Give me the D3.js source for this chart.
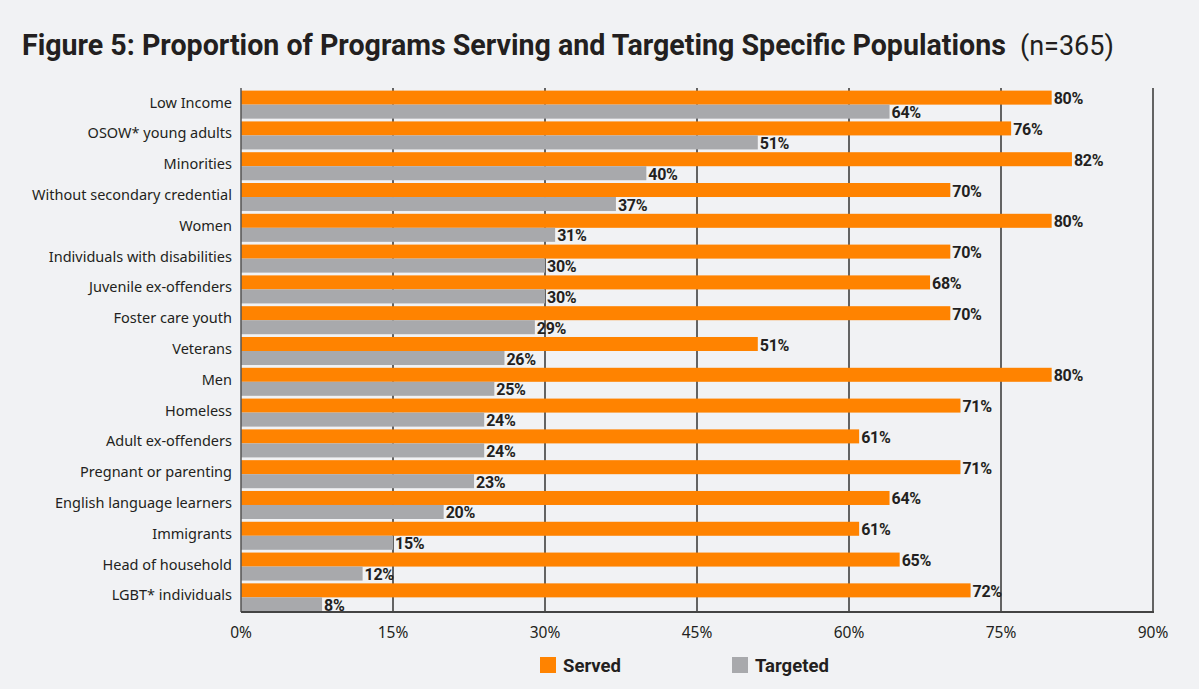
<!DOCTYPE html>
<html>
<head>
<meta charset="utf-8">
<script src="https://cdn.jsdelivr.net/npm/d3@7"></script>
<style>
  html, body { margin: 0; padding: 0; background: #f1f2f4; }
  svg { display: block; }
</style>
</head>
<body>
<svg id="chart"></svg>
<script>
var categories = [
    'Low Income', 'OSOW* young adults', 'Minorities', 'Without secondary credential',
    'Women', 'Individuals with disabilities', 'Juvenile ex-offenders', 'Foster care youth',
    'Veterans', 'Men', 'Homeless', 'Adult ex-offenders', 'Pregnant or parenting',
    'English language learners', 'Immigrants', 'Head of household', 'LGBT* individuals'
];
var served   = [80, 76, 82, 70, 80, 70, 68, 70, 51, 80, 71, 61, 71, 64, 61, 65, 72];
var targeted = [64, 51, 40, 37, 31, 30, 30, 29, 26, 25, 24, 24, 23, 20, 15, 12, 8];
var xTicks = [0, 15, 30, 45, 60, 75, 90];
var seriesNames = ['Served', 'Targeted'];
var seriesColors = ['#ff8300', '#a8a9ac'];

var config = {
    width: 1199,
    height: 689,
    left: 241,
    right: 1153,
    top: 90,
    bottom: 612
};

var svg = d3.select('#chart')
    .attr('width', config.width)
    .attr('height', config.height);

svg.append('rect')
    .attr('width', config.width).attr('height', config.height)
    .attr('fill', '#f1f2f4');

// title
var title = svg.append('text')
    .attr('x', 22).attr('y', 55)
    .attr('fill', '#231f20')
    .style('font-family', 'Roboto, sans-serif')
    .style('font-weight', 'bold')
    .style('font-size', '28.6px');
title.append('tspan').text('Figure 5: Proportion of Programs Serving and Targeting Specific Populations');
title.append('tspan')
    .attr('dx', 14)
    .style('font-weight', 'normal')
    .style('font-size', '27px')
    .text('(n=365)');

var x = d3.scaleLinear().domain([0, 90]).range([config.left, config.right]);
var y = d3.scaleBand().domain(categories).range([config.top, config.bottom])
    .paddingInner(0.09).paddingOuter(0.02);
var sub = d3.scaleBand().domain(seriesNames).range([0, y.bandwidth()]);

// gridlines
svg.append('g')
    .selectAll('line')
    .data(xTicks.slice(1))
    .enter()
    .append('line')
    .attr('x1', function(d) { return x(d); })
    .attr('x2', function(d) { return x(d); })
    .attr('y1', config.top - 2)
    .attr('y2', config.bottom)
    .attr('stroke', '#333')
    .attr('stroke-width', 1.5);

var rows = categories.map(function(c, i) {
    return { cat: c, values: [served[i], targeted[i]] };
});

var groups = svg.append('g')
    .selectAll('g')
    .data(rows)
    .enter()
    .append('g')
    .attr('transform', function(d) { return 'translate(0,' + y(d.cat) + ')'; });

groups.selectAll('rect')
    .data(function(d) { return d.values.map(function(v, j) { return { v: v, s: seriesNames[j], c: seriesColors[j] }; }); })
    .enter()
    .append('rect')
    .attr('x', x(0))
    .attr('y', function(d) { return sub(d.s); })
    .attr('width', function(d) { return x(d.v) - x(0); })
    .attr('height', sub.bandwidth())
    .attr('fill', function(d) { return d.c; });

groups.selectAll('text.val')
    .data(function(d) { return d.values.map(function(v, j) { return { v: v, s: seriesNames[j] }; }); })
    .enter()
    .append('text')
    .attr('class', 'val')
    .attr('x', function(d) { return x(d.v) + 2; })
    .attr('y', function(d) { return sub(d.s) + sub.bandwidth() / 2 + 6.5; })
    .attr('fill', '#231f20')
    .style('font-family', 'Roboto, sans-serif')
    .style('font-weight', 'bold')
    .style('font-size', '16px')
    .style('letter-spacing', '-0.3px')
    .text(function(d) { return d.v + '%'; });

// category labels
svg.append('g')
    .selectAll('text')
    .data(categories)
    .enter()
    .append('text')
    .attr('x', config.left - 9)
    .attr('y', function(d) { return y(d) + y.bandwidth() / 2 + 3; })
    .attr('text-anchor', 'end')
    .attr('fill', '#231f20')
    .style('font-family', '"Noto Sans", sans-serif')
    .style('font-size', '14.5px')
    .text(function(d) { return d; });

// axes lines
svg.append('line')
    .attr('x1', config.left).attr('x2', config.left)
    .attr('y1', config.top - 2).attr('y2', config.bottom)
    .attr('stroke', '#555').attr('stroke-width', 1.5);
svg.append('line')
    .attr('x1', config.left).attr('x2', config.right + 1)
    .attr('y1', config.bottom).attr('y2', config.bottom)
    .attr('stroke', '#444').attr('stroke-width', 2);

// x tick labels
svg.append('g')
    .selectAll('text')
    .data(xTicks)
    .enter()
    .append('text')
    .attr('x', function(d) { return x(d); })
    .attr('y', config.bottom + 26)
    .attr('text-anchor', 'middle')
    .attr('fill', '#231f20')
    .style('font-family', '"Noto Sans", sans-serif')
    .style('font-size', '15.5px')
    .text(function(d) { return d + '%'; });

// legend
var legendX = [540, 732];
var legend = svg.append('g')
    .selectAll('g')
    .data(seriesNames)
    .enter()
    .append('g')
    .attr('transform', function(d, i) { return 'translate(' + legendX[i] + ',657)'; });
legend.append('rect')
    .attr('width', 16).attr('height', 16)
    .attr('fill', function(d, i) { return seriesColors[i]; });
legend.append('text')
    .attr('x', 23).attr('y', 15)
    .attr('fill', '#231f20')
    .style('font-family', 'Roboto, sans-serif')
    .style('font-weight', 'bold')
    .style('font-size', '18.5px')
    .text(function(d) { return d; });
</script>
</body>
</html>
